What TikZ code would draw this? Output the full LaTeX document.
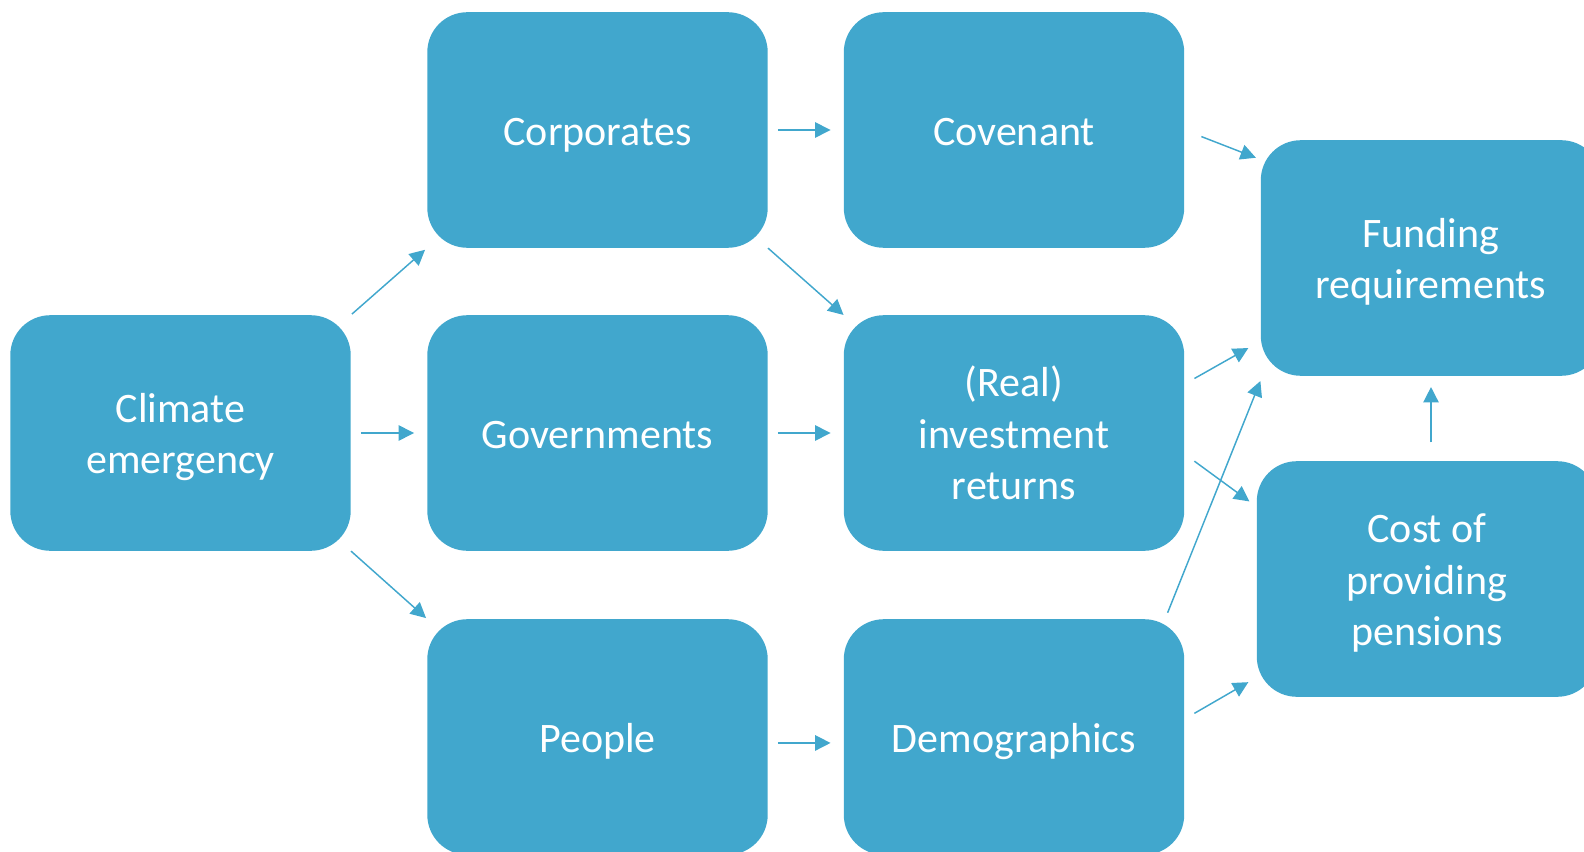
\documentclass[tikz,border=0pt]{standalone}
\usepackage{fontspec}
\setmainfont{Carlito}
\usetikzlibrary{arrows.meta}
\definecolor{boxblue}{HTML}{41A7CD}
% line struts so that every box centres its text block the same way
\newcommand\topstrut{\rule{0pt}{0.97em}}
\newcommand\botstrut{\rule[-0.25em]{0pt}{0.25em}}
\begin{document}
\begin{tikzpicture}[x=0.75pt,y=-0.75pt,line join=round,
		box/.style={fill=boxblue,rounded corners=30pt,minimum width=255.3pt,minimum height=176.7pt,inner sep=0pt,align=center,text=white,font={\fontsize{31.5}{38.6}\selectfont},
			execute at end node=\botstrut},
		arr/.style={draw=boxblue,line width=1.1pt,-{Triangle[length=11.5pt,width=11.5pt]}}]
	\useasboundingbox (0,0) rectangle (1584,852);
	\clip (0,0) rectangle (1584,852);
	% boxes
	\node[box] (climate) at (180.5,433) {\topstrut Climate\\emergency};
	\node[box] (corporates) at (597.5,130) {\topstrut Corporates};
	\node[box] (governments) at (597.5,433) {\topstrut Governments};
	\node[box] (people) at (597.5,737) {\topstrut People};
	\node[box] (covenant) at (1014,130) {\topstrut Covenant};
	\node[box] (returns) at (1014,433) {\topstrut (Real)\\investment\\returns};
	\node[box] (demographics) at (1014,737) {\topstrut Demographics};
	\node[box] (funding) at (1431,258) {\topstrut Funding\\requirements};
	\node[box] (cost) at (1427,579) {\topstrut Cost of\\providing\\pensions};
	% straight arrows between columns
	\foreach \a/\b in {climate.east/governments.west,corporates.east/covenant.west,governments.east/returns.west,people.-2/demographics.182}
		\draw[arr,shorten <=7.5pt,shorten >=9.75pt] (\a)--(\b);
	% slanted arrows
	\draw[arr,shorten <=1pt,shorten >=2pt] (climate.north east)--(corporates.south west);
	\draw[arr,shorten >=1pt] (climate.south east)--(people.north west);
	\draw[arr] (corporates.south east)--(returns.north west);
	\draw[arr,shorten <=13.6pt,shorten >=3.75pt] (covenant.east)--(funding.150);
	\draw[arr,shorten <=8.6pt,shorten >=10.5pt] (returns.16)--(funding.206);
	\draw[arr,shorten <=9.2pt,shorten >=6.6pt] (returns.-7)--(cost.157);
	\draw[arr,shorten <=5pt,shorten >=4pt] (demographics.38)--(funding.215);
	\draw[arr,shorten <=8.6pt,shorten >=7.1pt] (demographics.6)--(cost.210);
	\draw[arr,shorten <=14pt,shorten >=8.25pt] (funding.south |- cost.north)--(funding.south);
\end{tikzpicture}
\end{document}
